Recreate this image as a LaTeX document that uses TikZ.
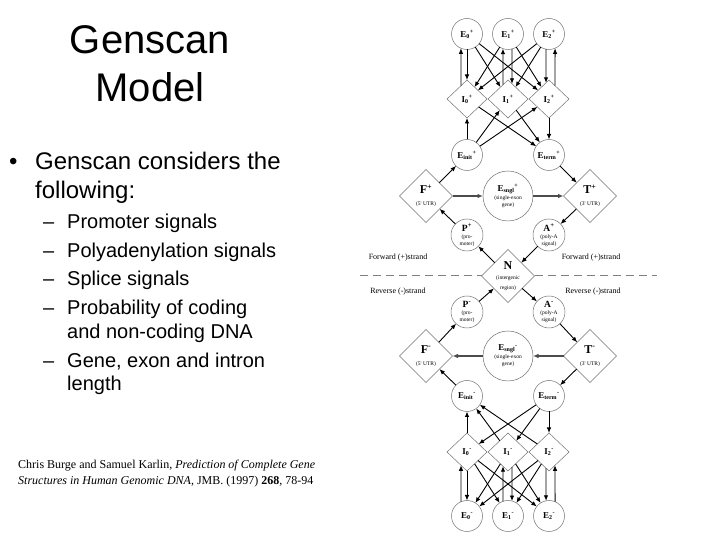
\documentclass[tikz,border=0pt]{standalone}
\usepackage{fontspec}
\setmainfont{Liberation Sans}
\newfontfamily\paperfont{Liberation Serif}
\usetikzlibrary{arrows.meta, positioning, shapes.geometric, calc}

\newcommand{\st}[3]{#1\textsubscript{#2}\textsuperscript{#3}}
\newcommand{\sm}{\fontsize{5.5}{6}\selectfont\mdseries}

\begin{document}
\begin{tikzpicture}[x=1pt, y=1pt,
  node distance=41pt and 41pt, on grid,
  exonnode/.style={circle, draw=black!55, line width=0.5pt, minimum size=31pt, inner sep=0pt, outer sep=0pt, font=\paperfont\fontsize{9}{10}\selectfont\bfseries},
  intronnode/.style={diamond, draw=black!55, line width=0.5pt, minimum width=40pt, minimum height=38pt, inner sep=0pt, outer sep=0pt, font=\paperfont\fontsize{9}{10}\selectfont\bfseries},
  utrnode/.style={diamond, draw=black!55, line width=0.5pt, minimum width=53pt, minimum height=53pt, inner sep=0pt, outer sep=0pt, align=center, font=\paperfont\fontsize{12}{13}\selectfont\bfseries},
  singlenode/.style={circle, draw=black!55, line width=0.5pt, minimum size=50pt, inner sep=0pt, outer sep=0pt, align=center, font=\paperfont\fontsize{9}{10}\selectfont\bfseries},
  signode/.style={circle, draw=black!55, line width=0.5pt, minimum size=32pt, inner sep=0pt, outer sep=0pt, align=center, font=\paperfont\fontsize{9.5}{10}\selectfont\bfseries},
  strandlabel/.style={font=\paperfont\fontsize{8}{9}\selectfont},
  divider/.style={black!50, line width=1pt, dash pattern=on 8pt off 5pt},
  flow/.style={-{Latex[length=5.5pt,width=4.5pt]}, line width=0.9pt, black},
  thickflow/.style={flow, line width=1.3pt, black!70},
  titletext/.style={anchor=base, font=\fontsize{40}{48}\selectfont},
  lvlone/.style={anchor=base west, inner sep=0pt, font=\fontsize{24}{29}\selectfont},
  lvltwo/.style={anchor=base west, inner sep=0pt, font=\fontsize{20}{24}\selectfont},
  citeline/.style={anchor=base west, inner sep=0pt, font=\paperfont\fontsize{12}{14}\selectfont}
]
\useasboundingbox[fill=white] (0,0) rectangle (720,540);

% Slide text
\node[titletext] (tit1) at (150,486.7) {Genscan};
\node[titletext] (tit2) at (150,438.3) {Model};
\node[lvlone] (bul) at (9,370) {\textbullet};
\node[lvlone] (cons1) at (35,370) {Genscan considers the};
\node[lvlone] (cons2) at (35,341.2) {following:};
\foreach \y [count=\i] in {311.7, 282.7, 254, 225, 172}
  \node[lvltwo] (dash\i) at (43,\y) {\textendash};
\node[lvltwo] (it1) at (67,311.7) {Promoter signals};
\node[lvltwo] (it2) at (67,282.7) {Polyadenylation signals};
\node[lvltwo] (it3) at (67,254) {Splice signals};
\node[lvltwo] (it4) at (67,225) {Probability of coding};
\node[lvltwo] (it4b) at (67,201.7) {and non-coding DNA};
\node[lvltwo] (it5) at (67,172) {Gene, exon and intron};
\node[lvltwo] (it5b) at (67,149.3) {length};
\node[citeline] (ref1) at (18,71) {Chris Burge and Samuel Karlin, \textit{Prediction of Complete Gene}};
\node[citeline] (ref2) at (18,55) {\textit{Structures in Human Genomic DNA}, JMB. (1997) \textbf{268}, 78-94};

% Forward strand
\node[exonnode] (E0p) at (467,506) {\st{E}{0}{+}};
\node[exonnode, right=of E0p] (E1p) {\st{E}{1}{+}};
\node[exonnode, right=of E1p] (E2p) {\st{E}{2}{+}};
\node[intronnode, below=65pt of E0p] (I0p) {\st{I}{0}{+}};
\node[intronnode, right=of I0p] (I1p) {\st{I}{1}{+}};
\node[intronnode, right=of I1p] (I2p) {\st{I}{2}{+}};
\node[exonnode, below=56pt of I0p] (Einitp) {\st{E}{init}{+}};
\node[exonnode, below=56pt of I2p] (Etermp) {\st{E}{term}{+}};
\node[utrnode, below left=41pt and 41pt of Einitp] (Fp) {F\textsuperscript{+}\\[-1pt]{\sm (5' UTR)}};
\node[singlenode, below right=41pt and 41pt of Einitp] (Esnglp) {\st{E}{sngl}{+}\\[-2pt]{\sm (single-exon}\\[-3pt]{\sm gene)}};
\node[utrnode, below right=41pt and 41pt of Etermp] (Tp) {T\textsuperscript{+}\\[-1pt]{\sm (3' UTR)}};
\node[signode, below=80pt of Einitp] (Pp) {P\textsuperscript{+}\\[-3pt]{\sm (pro-}\\[-3pt]{\sm moter)}};
\node[signode, below=80pt of Etermp] (Ap) {A\textsuperscript{+}\\[-3pt]{\sm (poly-A}\\[-3pt]{\sm signal)}};
\node[utrnode, below right=41pt and 41pt of Pp] (N) {N\\[-3pt]{\sm (intergenic}\\[-3pt]{\sm region)}};

% Reverse strand
\node[signode, below left=36pt and 41pt of N] (Pm) {P\textsuperscript{-}\\[-3pt]{\sm (pro-}\\[-3pt]{\sm moter)}};
\node[signode, below right=36pt and 41pt of N] (Am) {A\textsuperscript{-}\\[-3pt]{\sm (poly-A}\\[-3pt]{\sm signal)}};
\node[utrnode, below left=44pt and 41pt of Pm] (Fm) {F\textsuperscript{-}\\[-1pt]{\sm (5' UTR)}};
\node[singlenode, below=80pt of N] (Esnglm) {\st{E}{sngl}{-}\\[-2pt]{\sm (single-exon}\\[-3pt]{\sm gene)}};
\node[utrnode, below right=44pt and 41pt of Am] (Tm) {T\textsuperscript{-}\\[-1pt]{\sm (3' UTR)}};
\node[exonnode, below=84pt of Pm] (Einitm) {\st{E}{init}{-}};
\node[exonnode, below=84pt of Am] (Etermm) {\st{E}{term}{-}};
\node[intronnode, below=56pt of Einitm] (I0m) {\st{I}{0}{-}};
\node[intronnode, right=of I0m] (I1m) {\st{I}{1}{-}};
\node[intronnode, right=of I1m] (I2m) {\st{I}{2}{-}};
\node[exonnode, below=64pt of I0m] (E0m) {\st{E}{0}{-}};
\node[exonnode, right=of E0m] (E1m) {\st{E}{1}{-}};
\node[exonnode, right=of E1m] (E2m) {\st{E}{2}{-}};

% Strand labels and divider
\node[strandlabel] (fwdl) at (398,282) {Forward (+)strand};
\node[strandlabel] (fwdr) at (591,282) {Forward (+)strand};
\node[strandlabel] (revl) at (398,248) {Reverse (-)strand};
\node[strandlabel] (revr) at (593,248) {Reverse (-)strand};
\coordinate (dl) at (360,264);
\coordinate (dr) at (657,264);
\draw[divider] (dl) -- (N.west);
\draw[divider] (N.east) -- (dr);

% exons <-> introns (+)
\draw[flow] ($(I0p.north)!0.3!(I0p.west)$) -- (E0p.247);
\draw[flow] (E0p.south) -- (I0p.north);
\draw[flow] ($(I1p.north)!0.25!(I1p.west)$) -- (E1p.251);
\draw[flow] (E1p.285) -- ($(I1p.north)!0.2!(I1p.east)$);
\draw[flow] (E2p.259) -- ($(I2p.north)!0.15!(I2p.west)$);
\draw[flow] ($(I2p.north)!0.3!(I2p.east)$) -- (E2p.293);
\draw[flow] (E0p) -- (I1p);
\draw[flow] (E0p) -- (I2p);
\draw[flow] (E1p) -- (I0p);
\draw[flow] (E1p) -- (I2p);
\draw[flow] (E2p) -- (I0p);
\draw[flow] (E2p) -- (I1p);
\draw[flow] (Einitp) -- (I0p);
\draw[flow] (Einitp) -- (I1p);
\draw[flow] (Einitp) -- (I2p);
\draw[flow] (I0p) -- (Etermp);
\draw[flow] (I1p) -- (Etermp);
\draw[flow] (I2p) -- (Etermp);

% forward cycle
\draw[flow] (Fp) -- (Einitp);
\draw[thickflow] (Fp) -- (Esnglp);
\draw[thickflow] (Esnglp) -- (Tp);
\draw[flow] (Etermp) -- (Tp);
\draw[flow] (Tp) -- (Ap);
\draw[flow] (Ap) -- (N);
\draw[flow] (N) -- (Pp);
\draw[flow] (Pp) -- (Fp);

% reverse cycle
\draw[flow] (Pm) -- (N);
\draw[flow] (N) -- (Am);
\draw[flow] (Am) -- (Tm);
\draw[thickflow] (Tm) -- (Esnglm);
\draw[thickflow] (Esnglm) -- (Fm);
\draw[flow] (Fm) -- (Pm);
\draw[flow] (Einitm) -- (Fm);
\draw[flow] (Tm) -- (Etermm);

% exons <-> introns (-)
\draw[flow] (Etermm) -- (I0m);
\draw[flow] (Etermm) -- (I1m);
\draw[flow] (Etermm) -- (I2m);
\draw[flow] (I0m) -- (Einitm);
\draw[flow] (I1m) -- (Einitm);
\draw[flow] (I2m) -- (Einitm);
\draw[flow] (E0m.113) -- ($(I0m.south)!0.3!(I0m.west)$);
\draw[flow] (I0m.south) -- (E0m.north);
\draw[flow] (E1m.109) -- ($(I1m.south)!0.25!(I1m.west)$);
\draw[flow] ($(I1m.south)!0.2!(I1m.east)$) -- (E1m.75);
\draw[flow] ($(I2m.south)!0.15!(I2m.west)$) -- (E2m.101);
\draw[flow] (E2m.67) -- ($(I2m.south)!0.3!(I2m.east)$);
\draw[flow] (I0m) -- (E1m);
\draw[flow] (I0m) -- (E2m);
\draw[flow] (I1m) -- (E0m);
\draw[flow] (I1m) -- (E2m);
\draw[flow] (I2m) -- (E0m);
\draw[flow] (I2m) -- (E1m);
\end{tikzpicture}
\end{document}
